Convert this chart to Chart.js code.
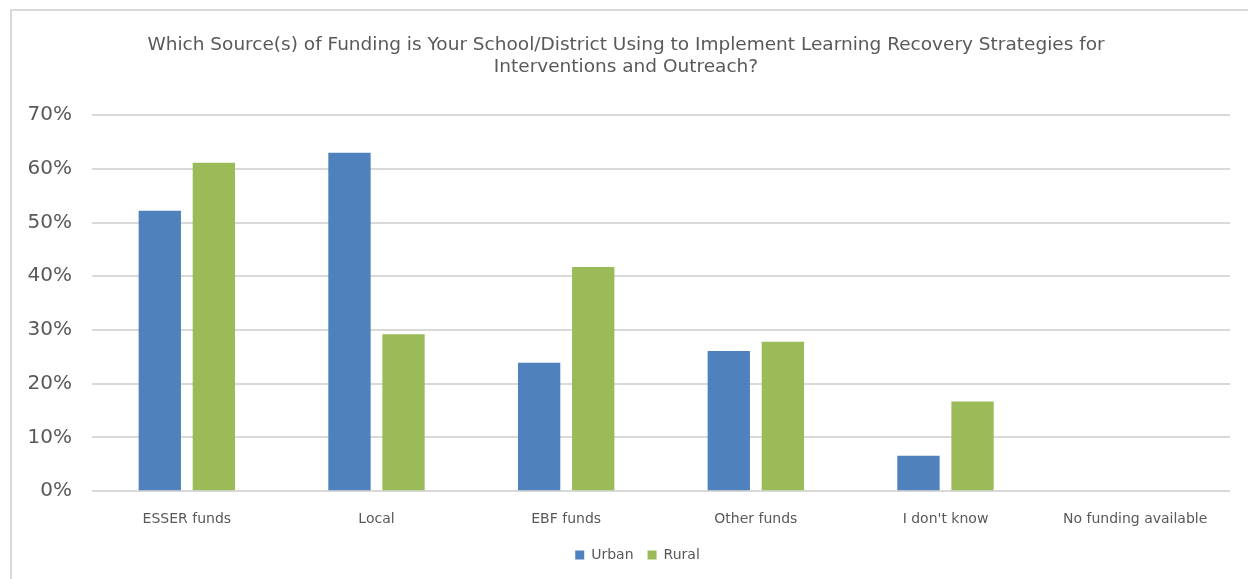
<!DOCTYPE html>
<html>
<head>
<meta charset="utf-8">
<script src="https://cdn.jsdelivr.net/npm/chart.js@4/dist/chart.umd.min.js"></script>
<style>
    html, body { margin: 0; padding: 0; background: #fff; overflow: hidden; }
    #frame { position: fixed; left: 10px; top: 9px; width: 1300px; height: 700px; background: linear-gradient(#d9d9d9, #d9d9d9) 0 0 / 100% 2px no-repeat, linear-gradient(#d9d9d9, #d9d9d9) 0 0 / 2px 100% no-repeat; }
    #fundingChart { position: fixed; left: 11px; top: 11px; }
</style>
</head>
<body>
<div id="frame"></div>
<canvas id="fundingChart" width="1237" height="568"></canvas>
<script>
"use strict";
const categories = ['ESSER funds', 'Local', 'EBF funds', 'Other funds', "I don't know", 'No funding available'];
const urban = [52.2, 63.0, 23.9, 26.1, 6.6, 0];
const rural = [61.1, 29.2, 41.7, 27.8, 16.7, 0];
const seriesNames = ['Urban', 'Rural'];
const seriesColors = ['#4F81BD', '#9BBB59'];
const titleLines = [
    'Which Source(s) of Funding is Your School/District Using to Implement Learning Recovery Strategies for',
    'Interventions and Outreach?'
];
const yMax = 70, yStep = 10;

const grey = '#595959';
const face = 'DejaVu Sans, Tahoma, sans-serif';

// title and legend sit a little right of the layout box centre
const boxShift = {
    id: 'boxShift',
    afterLayout: chart =>
    {
        const l = chart.legend;
        l.left += 17;
        l.right += 17;
        const t = chart.titleBlock;
        t.left += 5.5;
        t.right += 5.5;
    }
};

const datasets = [urban, rural].map((d, i) => ({
    label: seriesNames[i],
    data: d,
    backgroundColor: seriesColors[i],
    borderWidth: 0,
    categoryPercentage: 0.57,
    barPercentage: 0.783
}));

new Chart(document.getElementById('fundingChart'), {
    type: 'bar',
    data: { labels: categories, datasets },
    plugins: [boxShift],
    options: {
        responsive: false,
        animation: false,
        layout: { padding: { left: 0, right: 18, top: 0, bottom: 7 } },
        scales: {
            x: {
                grid: { display: false },
                border: { display: false },
                ticks: { color: grey, font: { family: face, size: 14 }, padding: 12, maxRotation: 0 },
                afterFit: s => { s.height = 42.8; }
            },
            y: {
                min: 0,
                max: yMax,
                grid: { color: '#d9d9d9', lineWidth: 2, drawTicks: false },
                border: { display: false },
                ticks: {
                    stepSize: yStep,
                    color: grey,
                    padding: 20,
                    font: { family: face, size: 20 },
                    callback: v => v + '%'
                },
                afterFit: s => { s.width = 81; }
            }
        },
        plugins: {
            title: {
                display: true,
                text: titleLines,
                color: grey,
                font: { family: face, size: 18.5, weight: 'normal', lineHeight: 1.19 },
                padding: { top: 23, bottom: 37 }
            },
            legend: {
                position: 'bottom',
                labels: {
                    color: grey,
                    boxWidth: 9,
                    boxHeight: 9,
                    padding: 14,
                    font: { family: face, size: 14 }
                }
            },
            tooltip: { enabled: false }
        }
    }
});
</script>
</body>
</html>
